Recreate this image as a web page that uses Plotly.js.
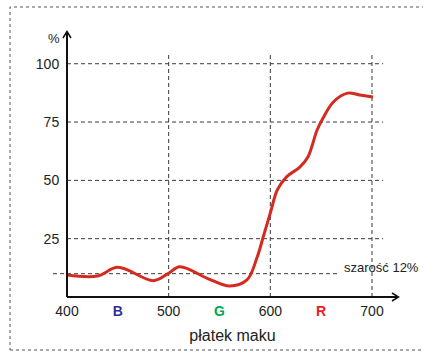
<!DOCTYPE html>
<html><head><meta charset="utf-8">
<script src="https://cdn.plot.ly/plotly-3.0.1.min.js"></script>
<style>html,body{margin:0;padding:0;background:#fff}</style>
</head><body>
<div id="chart" style="width:423px;height:352px"></div>
<script>
// Data
const wavelength = [400, 430, 450, 485, 499, 511, 538, 560, 577, 587, 593, 600, 607, 616, 629, 637, 646, 651, 662, 676, 688, 701];
const reflectance = [9.4, 9, 12.7, 7, 9.9, 13, 8, 4.7, 7.3, 17, 25.7, 36, 46, 51.5, 55.7, 60, 71.6, 76, 83.6, 87.4, 86.6, 85.7];
const xTickVals = [400, 450, 500, 550, 600, 650, 700];
const xTickText = ['400', '<span style="color:#2e3192"><b>B</b></span>', '500',
  '<span style="color:#00a651"><b>G</b></span>', '600',
  '<span style="color:#ed1c24"><b>R</b></span>', '700'];
const yTickVals = [25, 50, 75, 100];
const yTickText = ['25', '50', '75', '100'];
const vGridVals = [500, 600, 700];
const hGridVals = [25, 50, 75, 100];
const grayLevel = 10;
const grayLabel = 'szarość 12%';
const xTitle = 'płatek maku';
const yUnit = '%';

const W = 423, H = 352, L = 67, R = 25, T = 32, B = 55;
const xRange = [400, 725.6], yRange = [0, 113.6];
const pw = W - L - R, ph = H - T - B;
const px = p => (p - L) / pw;          // pixel x -> paper
const py = p => (H - B - p) / ph;      // pixel y -> paper
const dx = v => (v - xRange[0]) / (xRange[1] - xRange[0]);
const dy = v => (v - yRange[0]) / (yRange[1] - yRange[0]);

const grid = {color: '#3a3a3a', width: 1, dash: '4px,3px'};
const shapes = [];
vGridVals.forEach(v => shapes.push({type: 'line', xref: 'paper', yref: 'paper',
  x0: dx(v), x1: dx(v), y0: 0, y1: dy(105), line: grid, layer: 'below'}));
hGridVals.forEach(v => shapes.push({type: 'line', xref: 'paper', yref: 'paper',
  x0: 0, x1: dx(711), y0: dy(v), y1: dy(v), line: grid, layer: 'below'}));
shapes.push({type: 'line', xref: 'paper', yref: 'paper',
  x0: px(53), x1: dx(666), y0: dy(grayLevel), y1: dy(grayLevel), line: grid, layer: 'below'});
// outer dashed frame
shapes.push({type: 'rect', xref: 'paper', yref: 'paper',
  x0: px(10), x1: px(430), y0: py(350), y1: py(7),
  line: {color: '#555', width: 1, dash: '3px,3px'}});
// axes with chevron arrows
const ax = {color: '#111', width: 2};
shapes.push({type: 'line', xref: 'paper', yref: 'paper', x0: 0, x1: px(398), y0: 0, y1: 0, line: ax});
shapes.push({type: 'line', xref: 'paper', yref: 'paper', x0: 0, x1: 0, y0: 0, y1: py(32), line: ax});
shapes.push({type: 'path', xref: 'paper', yref: 'paper',
  path: `M ${px(392)} ${py(293)} L ${px(398.5)} ${py(297)} L ${px(392)} ${py(301)}`,
  line: {color: '#111', width: 1.5}});
shapes.push({type: 'path', xref: 'paper', yref: 'paper',
  path: `M ${px(63)} ${py(38)} L ${px(67)} ${py(31.5)} L ${px(71)} ${py(38)}`,
  line: {color: '#111', width: 1.5}});

const font = {family: 'Liberation Sans, Arial, sans-serif', color: '#222'};

Plotly.newPlot('chart', [{
  x: wavelength, y: reflectance, type: 'scatter', mode: 'lines',
  line: {color: '#d42a20', width: 3, shape: 'spline', smoothing: 1},
  hoverinfo: 'skip'
}], {
  width: W, height: H,
  margin: {l: L, r: R, t: T, b: B, pad: 0},
  paper_bgcolor: '#fff', plot_bgcolor: '#fff',
  showlegend: false,
  font: Object.assign({size: 14}, font),
  xaxis: {range: xRange, showgrid: false, zeroline: false, showline: false,
    tickvals: xTickVals, ticktext: xTickText, ticks: 'outside', ticklen: 1, tickcolor: 'rgba(0,0,0,0)',
    tickfont: Object.assign({size: 14}, font),
    title: {text: xTitle, font: Object.assign({size: 16}, font), standoff: 12}},
  yaxis: {range: yRange, showgrid: false, zeroline: false, showline: false,
    tickvals: yTickVals, ticktext: yTickText, ticks: 'outside', ticklen: 4, tickcolor: 'rgba(0,0,0,0)',
    tickfont: Object.assign({size: 14}, font)},
  shapes: shapes,
  annotations: [
    {xref: 'paper', yref: 'paper', x: px(62), y: py(38), xanchor: 'right', yanchor: 'middle',
      text: yUnit, showarrow: false, font: Object.assign({size: 13}, font)},
    {xref: 'paper', yref: 'paper', x: px(421), y: py(267), xanchor: 'right', yanchor: 'middle',
      text: grayLabel, showarrow: false, font: Object.assign({size: 13}, font)}
  ]
}, {staticPlot: true, displayModeBar: false});
</script>
</body></html>
